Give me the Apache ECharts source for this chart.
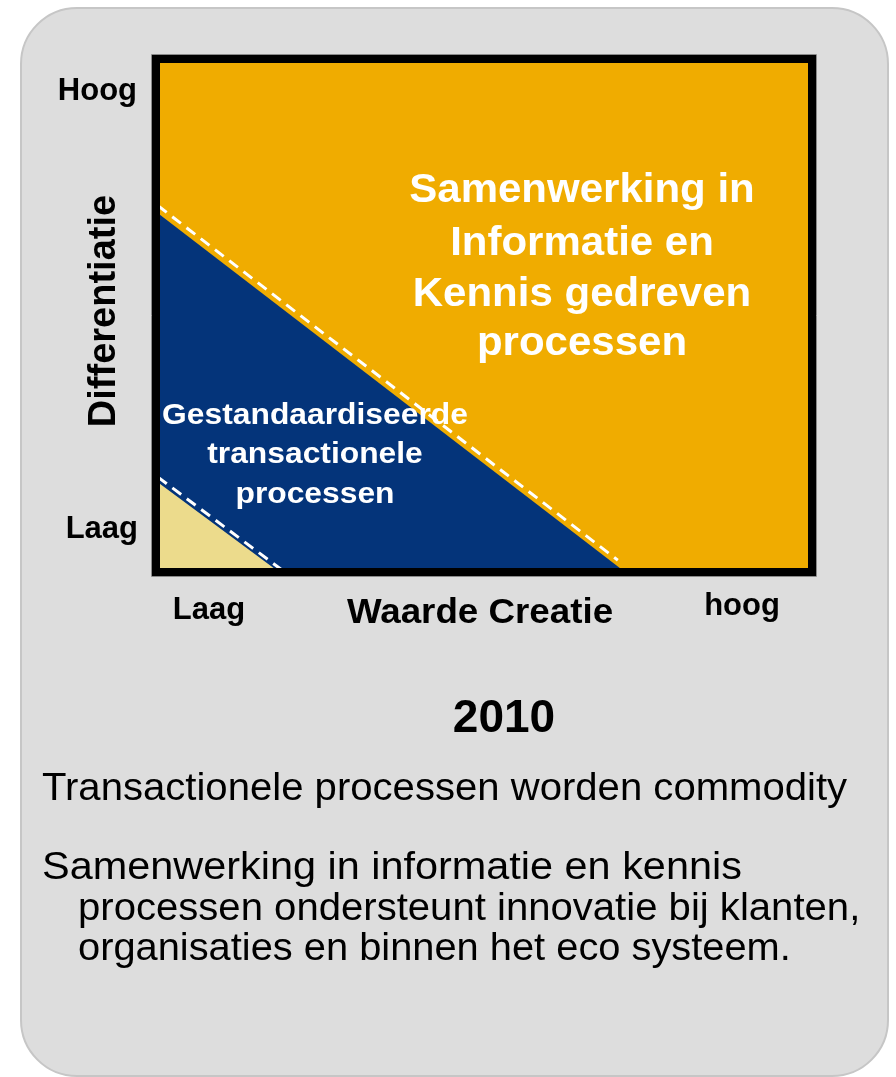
<!DOCTYPE html>
<html><head><meta charset="utf-8">
<script src="https://cdn.jsdelivr.net/npm/echarts@6/dist/echarts.min.js"></script>
<style>html,body{margin:0;padding:0;background:#fff}#c{width:896px;height:1077px}</style>
</head><body><div id="c"></div>
<script>
// ---- data ----
const xTickLabels = ['Laag', 'hoog'];
const yTickLabels = ['Laag', 'Hoog'];
const xAxisTitle = 'Waarde Creatie';
const yAxisTitle = 'Differentiatie';
const topRegionLines = ['Samenwerking in', 'Informatie en', 'Kennis gedreven', 'processen'];
const midRegionLines = ['Gestandaardiseerde', 'transactionele', 'processen'];
const orangeArea = [[0, 0], [0, 100], [100, 100], [100, 0]];
const blueTriangle = [[0, 0], [0, 70.2], [71.5, 0]];
const yellowTriangle = [[0, 0], [0, 18.0], [19.0, 0]];
const blueEdge = [[0.3, 71.4], [70.4, 2.3]];
const yellowEdge = [[0.3, 18.5], [19.4, 0.2]];
const yearLabel = '2010';
const noteLines = [
  'Transactionele processen worden commodity',
  'Samenwerking in informatie en kennis',
  'processen ondersteunt innovatie bij klanten,',
  'organisaties en binnen het eco systeem.'
];

// ---- chart ----
const chart = echarts.init(document.getElementById('c'));
const FONT = '"Liberation Sans", Arial, Helvetica, sans-serif';
const G = {left: 156, top: 59, width: 656, height: 513};

function poly(points, fill, stroke, z) {
  return {
    type: 'custom', coordinateSystem: 'cartesian2d', silent: true, z: z,
    data: [[0, 0]],
    renderItem: function (params, api) {
      return {
        type: 'polygon',
        shape: {points: points.map(function (p) { return api.coord(p); })},
        style: {fill: fill, stroke: stroke || null, lineWidth: stroke ? 2 : 0}
      };
    }
  };
}
function dashLine(points) {
  return {
    type: 'line', data: points, symbol: 'none', silent: true, z: 10,
    lineStyle: {color: '#ffffff', width: 3, type: [11, 7]}
  };
}
function txt(text, x, baseline, fs, o) {
  o = o || {};
  return {
    type: 'text', x: x, y: baseline - 0.35 * fs, scaleX: o.sx || 1, z: 100,
    style: {
      text: text, fontSize: fs, fontWeight: o.bold ? 'bold' : 'normal', fontFamily: FONT,
      fill: o.color || '#000', align: o.align || 'left', verticalAlign: 'middle'
    }
  };
}

const graphics = [
  {type: 'rect', z: 0, shape: {x: 21, y: 8, width: 867, height: 1068, r: 56},
   style: {fill: '#DDDDDD', stroke: '#C6C6C6', lineWidth: 2}},
  {type: 'rect', z: 50, shape: {x: G.left, y: G.top, width: G.width, height: G.height},
   style: {fill: null, stroke: '#000', lineWidth: 8}},
  {type: 'rect', z: 49, shape: {x: G.left - 4.5, y: G.top - 4.5, width: G.width + 9, height: G.height + 9},
   style: {fill: null, stroke: '#8a8a8a', lineWidth: 1}},
  txt(yTickLabels[1], 137, 102, 31, {bold: true, align: 'right'}),
  txt(yTickLabels[0], 138, 540, 31, {bold: true, align: 'right'}),
  txt(xTickLabels[0], 209, 621, 31, {bold: true, align: 'center'}),
  txt(xTickLabels[1], 742, 617, 31, {bold: true, align: 'center'}),
  txt(xAxisTitle, 480, 626, 35, {bold: true, align: 'center', sx: 1.05}),
  {type: 'text', x: 105, y: 311, rotation: Math.PI / 2, scaleX: 1.0, z: 100,
   style: {text: yAxisTitle, fontSize: 38, fontWeight: 'bold', fontFamily: FONT, fill: '#000',
           align: 'center', verticalAlign: 'middle'}},
  txt(yearLabel, 504, 735, 46, {bold: true, align: 'center'})
];
const topBase = [205, 258, 309, 358];
topRegionLines.forEach(function (l, i) {
  graphics.push(txt(l, 582, topBase[i], 40, {bold: true, align: 'center', color: '#fff', sx: 1.05}));
});
const midBase = [426, 465, 505];
midRegionLines.forEach(function (l, i) {
  graphics.push(txt(l, 315, midBase[i], 30, {bold: true, align: 'center', color: '#fff', sx: 1.06}));
});
const noteX = [42, 42, 78, 78];
const noteBase = [803, 882, 923, 963];
const noteSx = [1.055, 1.09, 1.055, 1.048];
noteLines.forEach(function (l, i) {
  graphics.push(txt(l, noteX[i], noteBase[i], 38, {sx: noteSx[i]}));
});

chart.setOption({
  animation: false,
  backgroundColor: '#ffffff',
  grid: {left: G.left, top: G.top, width: G.width, height: G.height, show: false},
  xAxis: {type: 'value', min: 0, max: 100, show: false},
  yAxis: {type: 'value', min: 0, max: 100, show: false},
  graphic: {elements: graphics},
  series: [
    poly(orangeArea, '#F0AC00', null, 2),
    poly(blueTriangle, '#04347A', null, 3),
    poly(yellowTriangle, '#ECDB8C', '#04347A', 4),
    dashLine(blueEdge),
    dashLine(yellowEdge)
  ]
});
</script></body></html>
